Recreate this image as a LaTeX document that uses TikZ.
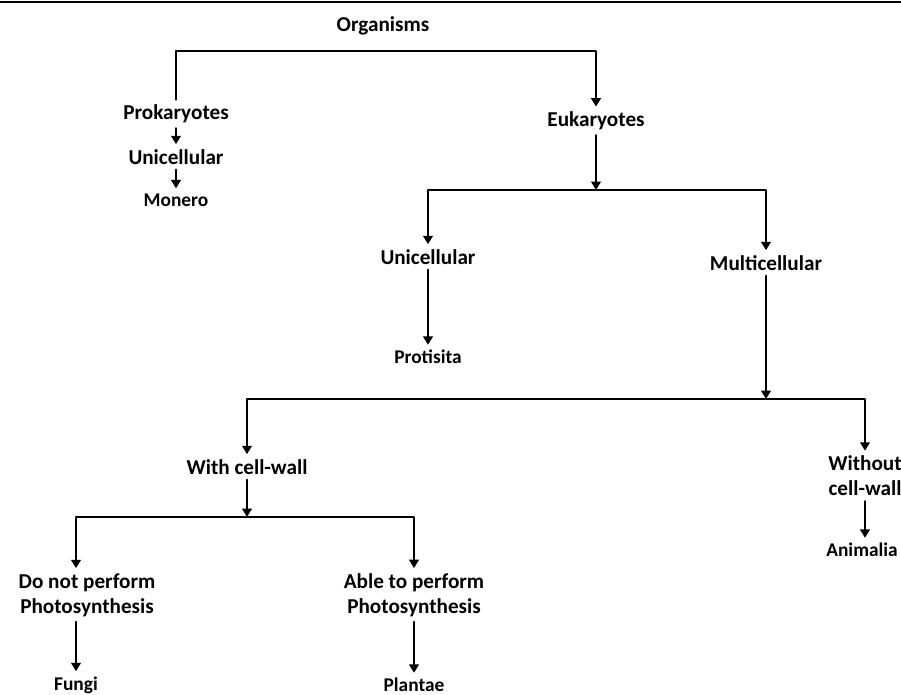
\documentclass[tikz,border=0pt]{standalone}
\usepackage{fontspec}
\setmainfont{Carlito}
\usetikzlibrary{arrows.meta}

\begin{document}
\begin{tikzpicture}[x=0.5pt,y=-0.5pt,line cap=round,line join=round,line width=1.3pt,
  lbl/.style={font=\bfseries\fontsize{10.6}{12.5}\selectfont,inner sep=2pt,align=center},
  leaf/.style={font=\bfseries\fontsize{9.7}{12}\selectfont,inner sep=2pt},
  arr/.style={-{Triangle[width=4.8pt,length=4.2pt]}},
  tarr/.style={{Triangle[width=4.8pt,length=4.2pt]}-{Triangle[width=4.8pt,length=4.2pt]}}]

\useasboundingbox (0,0) rectangle (901,695);

% top rule
\draw[line width=1pt] (0,2) -- (901,2);

% labels
\node[lbl] (org) at (383,26) {Organisms};
\node[lbl] (pro) at (176,114) {Prokaryotes};
\node[lbl] (puni) at (176,157) {Unicellular};
\node[leaf] (mon) at (176,200) {Monero};
\node[lbl] (euk) at (596,121) {Eukaryotes};
\node[lbl] (uni) at (428,257) {Unicellular};
\node[lbl] (mul) at (766,263) {Multicellular};
\node[leaf] (pst) at (428,357) {Protisita};
\node[lbl] (wcw) at (247,467) {With cell-wall};
\node[lbl] (wocw) at (865,476) {Without\\cell-wall};
\node[leaf] (ani) at (862,550) {Animalia};
\node[lbl] (dnp) at (87,595) {Do not perform\\Photosynthesis};
\node[lbl] (atp) at (414,595) {Able to perform\\Photosynthesis};
\node[leaf] (fun) at (76,685) {Fungi};
\node[leaf] (pla) at (414,685) {Plantae};

% levels of the bars
\coordinate (b1) at (0,51);
\coordinate (b2) at (0,190);
\coordinate (b3) at (0,399);
\coordinate (b4) at (0,517);

% organisms
\draw[arr] (pro.north) -- (pro.north |- b1) -| (euk.north);
\draw[arr] (pro.south) -- (puni.north);
\draw[arr] (puni.south) -- (mon.north);

% eukaryotes
\draw[arr] (euk.south) -- (euk.south |- b2);
\draw[tarr] (uni.north) |- (mul.north |- b2) -- (mul.north);
\draw[arr] (uni.south) -- (pst.north);

% multicellular
\draw[arr] (mul.south) -- (mul.south |- b3);
\draw[tarr] (wcw.north) |- (wocw.north |- b3) -- (wocw.north);
\draw[arr] (wocw.south) -- (wocw.south |- ani.north);

% cell-wall
\draw[arr] (wcw.south) -- (wcw.south |- b4);
\draw[tarr] (dnp.north -| fun.north) |- (atp.north |- b4) -- (atp.north);
\draw[arr] (dnp.south -| fun.north) -- (fun.north);
\draw[arr] (atp.south) -- (pla.north);

\end{tikzpicture}
\end{document}
